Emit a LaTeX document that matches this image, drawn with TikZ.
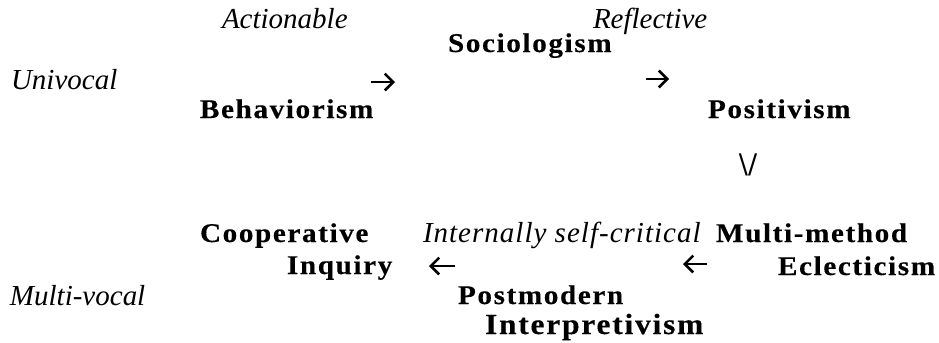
\documentclass[tikz,border=0pt]{standalone}
\usepackage{fontspec}
\usetikzlibrary{arrows.meta}
\setmainfont{Liberation Serif}
\newfontfamily\bfam[FakeStretch=1.08,LetterSpace=6,BoldFeatures={FakeBold=0.3}]{Liberation Serif}
\newfontfamily\itwide[LetterSpace=3.5]{Liberation Serif}
\newfontfamily\slfam{DejaVu Sans}
\begin{document}
\begin{tikzpicture}[x=0.5pt,y=-0.5pt,
  every node/.style={inner sep=0pt,outer sep=0pt},
  dim/.style={anchor=base west,font=\fontsize{14.5pt}{16pt}\selectfont\itshape},
  dimwide/.style={anchor=base west,font=\fontsize{14.5pt}{16pt}\itwide\itshape},
  para/.style={anchor=base west,font=\fontsize{13.5pt}{15pt}\bfam\bfseries},
  bigpara/.style={anchor=base west,font=\fontsize{14.6pt}{16pt}\bfam\bfseries},
  slash/.style={anchor=center,font=\fontsize{13.5pt}{15pt}\slfam},
  glypharrow/.style={line width=1.3pt,-{Straight Barb[length=4.2pt,width=8.4pt]}}]
\useasboundingbox (0,0) rectangle (939,343);
% dimension labels
\node[dim] (actionable) at (222,28) {Actionable};
\node[dim] (reflective) at (593,28) {Reflective};
\node[dim] (univocal) at (11,89) {Univocal};
\node[dim] (multivocal) at (10,305) {Multi-vocal};
\node[dimwide] (internal) at (423,242) {Internally self-critical};
% paradigms
\node[para] (socio) at (448,52) {Sociologism};
\node[para] (behav) at (200,118) {Behaviorism};
\node[para] (posit) at (708,118) {Positivism};
\node[para] (coop) at (200,242) {Cooperative};
\node[para] (multi) at (716,242) {Multi-method};
\node[para] (inquiry) at (287,274) {Inquiry};
\node[para] (eclect) at (778,275) {Eclecticism};
\node[para] (postmod) at (458,304) {Postmodern};
\node[bigpara] (interp) at (485,334) {Interpretivism};
\node[slash] (arrV) at (748,165) {\textbackslash/};
% arrow glyphs
\coordinate (a1) at (371,82);  \coordinate (a2) at (395,82);
\coordinate (b1) at (646,79);  \coordinate (b2) at (669,79);
\coordinate (c1) at (455,266); \coordinate (c2) at (429,266);
\coordinate (d1) at (707,264); \coordinate (d2) at (683,264);
\draw[glypharrow] (a1) -- (a2);
\draw[glypharrow] (b1) -- (b2);
\draw[glypharrow] (c1) -- (c2);
\draw[glypharrow] (d1) -- (d2);
\end{tikzpicture}
\end{document}
